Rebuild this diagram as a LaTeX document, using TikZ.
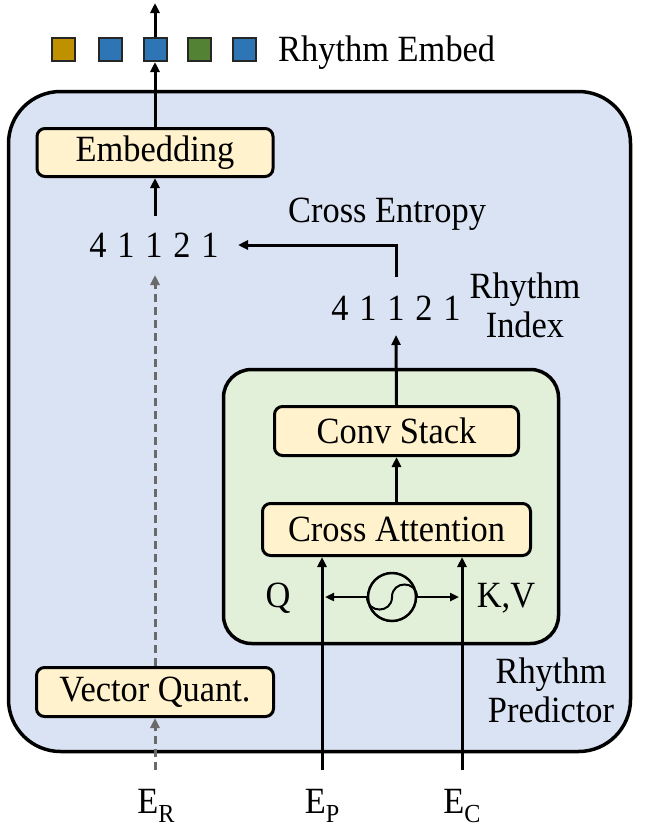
\documentclass[tikz,border=0pt]{standalone}
\usepackage{fontspec}
\setmainfont{Liberation Serif}[FakeStretch=0.93]
\usetikzlibrary{arrows.meta}
\definecolor{bluebg}{HTML}{DAE3F3}
\definecolor{greenbg}{HTML}{E2F0D9}
\definecolor{yellowbg}{HTML}{FFF2CC}
\definecolor{sqgold}{HTML}{BF9000}
\definecolor{sqblue}{HTML}{2E75B6}
\definecolor{sqgreen}{HTML}{548235}
\definecolor{dashgray}{HTML}{6A6A6A}
\newcommand\digbox[1]{\makebox[28pt]{#1}}
\newcommand\subl[1]{\raisebox{-9pt}{\fontsize{26}{26}\selectfont #1}}
\begin{document}
\begin{tikzpicture}[x=1pt,y=-1pt,
  txt/.style={font=\fontsize{37}{39}\selectfont, inner sep=0pt},
  module/.style={draw=black, line width=3pt, fill=yellowbg, rounded corners=8pt, inner sep=0pt, font=\fontsize{37}{39}\selectfont},
  sq/.style={draw=black!85, line width=2pt, minimum size=23pt, inner sep=0pt},
  arr/.style={line width=3pt, -{Triangle[length=10pt,width=9pt]}},
  darr/.style={line width=3pt, draw=dashgray, dash pattern=on 8pt off 5pt, -{Triangle[length=10pt,width=9pt]}, dashgray},
  biarr/.style={line width=2.5pt, -{Triangle[length=9pt,width=8pt]}}
]
\useasboundingbox (0,0) rectangle (648,835);

% outer box
\node[draw=black, line width=3.5pt, fill=bluebg, rounded corners=52pt, minimum width=622pt, minimum height=660pt, inner sep=0pt] (outer) at (319.5,421.5) {};
% green box
\node[draw=black, line width=3.5pt, fill=greenbg, rounded corners=28pt, minimum width=335pt, minimum height=274pt, inner sep=0pt] (green) at (391,506.5) {};

% modules
\node[module, minimum width=236pt, minimum height=48pt] (emb) at (155,152.5) {Embedding};
\node[module, minimum width=244pt, minimum height=49pt] (conv) at (396.5,431) {Conv Stack};
\node[module, minimum width=268pt, minimum height=52pt] (ca) at (396.5,529.5) {Cross Attention};
\node[module, minimum width=237pt, minimum height=49pt] (vq) at (155,692) {Vector Quant.};

% squares
\node[sq, fill=sqgold]  (sq1) at (63.5,49.5) {};
\node[sq, fill=sqblue]  (sq2) at (110,49.5) {};
\node[sq, fill=sqblue]  (sq3) at (155,49.5) {};
\node[sq, fill=sqgreen] (sq4) at (199,49.5) {};
\node[sq, fill=sqblue]  (sq5) at (244.5,49.5) {};
\node[txt, anchor=base west] (rembed) at (278,61) {Rhythm Embed};

% numbers
\node[txt, anchor=base] (num1) at (154,257) {\digbox{4}\digbox{1}\digbox{1}\digbox{2}\digbox{1}};
\node[txt, anchor=base] (num2) at (396,320) {\digbox{4}\digbox{1}\digbox{1}\digbox{2}\digbox{1}};
\node[txt, anchor=base west] (ce) at (288,222) {Cross Entropy};
\node[txt, align=center, anchor=base] (rindex) at (525,337) {Rhythm\\Index};
\node[txt, align=center, anchor=base] (rpred) at (551,722) {Rhythm\\Predictor};

% Q, KV, sine source
\node[txt, anchor=base] (q) at (278,607) {Q};
\node[txt, anchor=base] (kv) at (506,607) {K,V};
\node[circle, draw=black, line width=2.5pt, minimum size=48pt, inner sep=0pt] (sine) at (392,597) {};
\draw[line width=2pt] (367,597) .. controls (367,613.7) and (392,613.7) .. (392,597)
                      .. controls (392,580.3) and (417,580.3) .. (417,597);

% bottom labels
\node[txt, anchor=base] (er) at (156,813) {E\subl{R}};
\node[txt, anchor=base] (ep) at (322,813) {E\subl{P}};
\node[txt, anchor=base] (ec) at (462,813) {E\subl{C}};

% coordinates for free ends
\coordinate (top) at (155,3);
\coordinate (n1t) at (155,216);
\coordinate (n1b) at (155,275);
\coordinate (n1r) at (238,245);
\coordinate (n2t) at (396,277);
\coordinate (n2b) at (396,335);
\coordinate (erb) at (155,770);
\coordinate (epb) at (322,770);
\coordinate (ecb) at (462,770);
\coordinate (qtip) at (325,597);
\coordinate (kvtip) at (459,597);

% connectors
\draw[arr] (emb.north) -- (sq3.south);
\draw[arr] (sq3.north) -- (top);
\draw[arr] (n1t) -- (emb.south);
\draw[arr] (n2t) |- (n1r);
\draw[arr] (conv.north) -- (n2b);
\draw[arr] (ca.north) -- (conv.south);
\draw[arr] (epb) -- (epb |- ca.south);
\draw[arr] (ecb) -- (ecb |- ca.south);
\draw[biarr] (sine.west) -- (qtip);
\draw[biarr] (sine.east) -- (kvtip);
\draw[darr] (erb) -- (vq.south);
\draw[darr] (vq.north) -- (n1b);
\end{tikzpicture}
\end{document}
